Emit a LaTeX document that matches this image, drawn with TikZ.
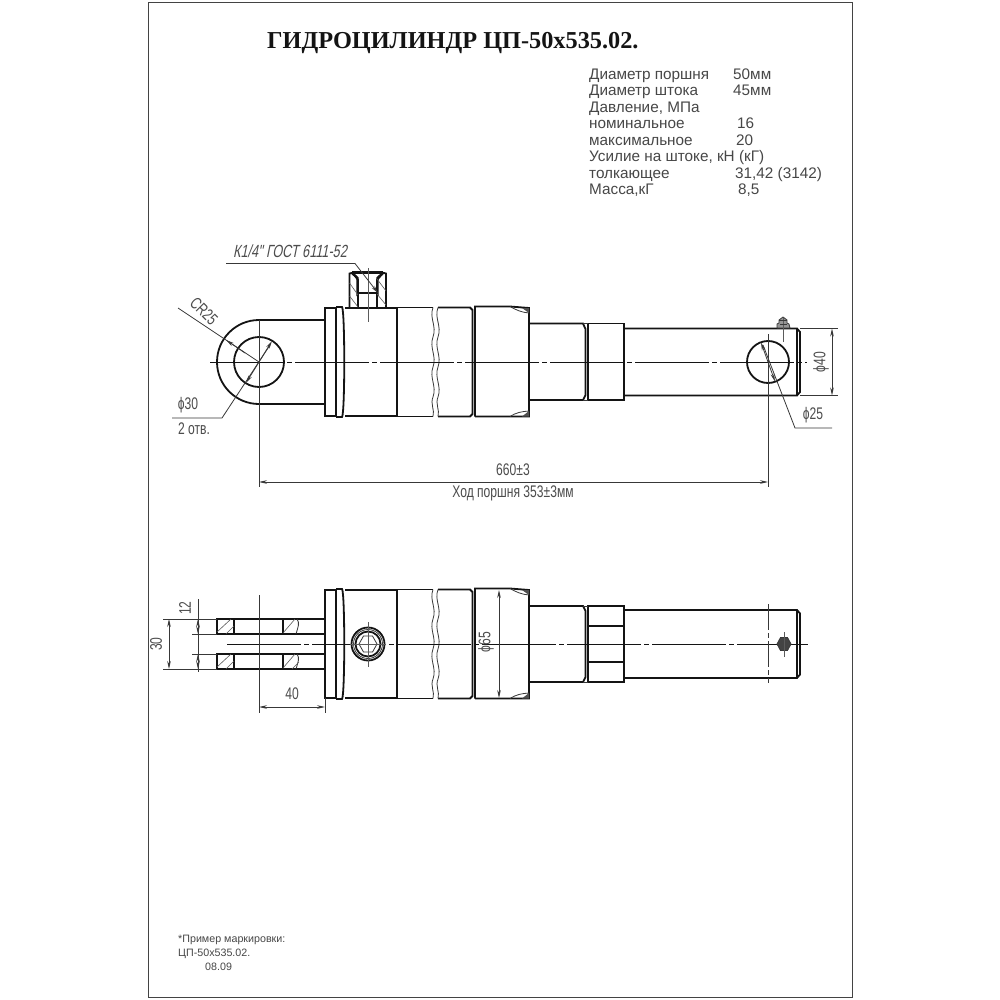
\documentclass[tikz,border=0pt]{standalone}
\usepackage{fontspec}
\usetikzlibrary{arrows.meta}
\setmainfont{Liberation Sans}
\newfontfamily\titlefont{Liberation Serif}
\newfontfamily\cadfont[FakeStretch=0.72]{Liberation Sans}
\newfontfamily\caditfont[FakeStretch=0.72,FakeSlant=0.2]{Liberation Sans}
\definecolor{ink}{gray}{0.08}
\definecolor{cadtext}{gray}{0.3}
\definecolor{spec}{gray}{0.28}
\tikzset{
 frameline/.style={line width=1pt,draw=ink!80},
 main/.style={line width=1.8pt,draw=ink},
 heavy/.style={line width=2.4pt,draw=ink},
 thinl/.style={line width=0.8pt,draw=ink!85},
 hair/.style={line width=0.6pt,draw=ink!70},
 axisl/.style={line width=0.8pt,draw=ink,dash pattern=on 74pt off 3pt on 5pt off 3pt},
 dimarrow/.style={line width=0.8pt,draw=ink!85,{Stealth[length=8pt,width=3.6pt]}-{Stealth[length=8pt,width=3.6pt]}},
 onearrow/.style={line width=0.8pt,draw=ink!85,-{Stealth[length=8pt,width=3.6pt]}},
 cad/.style={inner sep=0pt,text=cadtext,font=\cadfont\fontsize{16.8}{16.8}\selectfont},
 spectxt/.style={inner sep=0pt,anchor=base west,text=spec,font=\fontsize{15.3}{15.3}\selectfont},
 marktxt/.style={inner sep=0pt,anchor=base west,text=spec,font=\fontsize{10.7}{10.7}\selectfont},
}
\begin{document}
\begin{tikzpicture}[x=1pt,y=-1pt]
\useasboundingbox (0,0) rectangle (1000,1000);
\fill[white] (0,0) rectangle (1000,1000);
\draw[frameline] (148,3) rectangle (852,997);

% title
\node[inner sep=0pt,anchor=base west,text=ink,font=\titlefont\bfseries\fontsize{24.3}{24.3}\selectfont] (title) at (267,49) {ГИДРОЦИЛИНДР ЦП-50х535.02.};

% specification
\node[spectxt] (s1) at (589,79.5) {Диаметр поршня};
\node[spectxt] (s1v) at (733,79.5) {50мм};
\node[spectxt] (s2) at (589,96) {Диаметр штока};
\node[spectxt] (s2v) at (733,96) {45мм};
\node[spectxt] (s3) at (589,112.5) {Давление, МПа};
\node[spectxt] (s4) at (589,129) {номинальное};
\node[spectxt] (s4v) at (737,129) {16};
\node[spectxt] (s5) at (589,145.5) {максимальное};
\node[spectxt] (s5v) at (736,145.5) {20};
\node[spectxt] (s6) at (589,162) {Усилие на штоке, кН (кГ)};
\node[spectxt] (s7) at (589,178.5) {толкающее};
\node[spectxt] (s7v) at (735,178.5) {31,42 (3142)};
\node[spectxt] (s8) at (589,195) {Масса,кГ};
\node[spectxt] (s8v) at (738,195) {8,5};

% marking note
\node[marktxt] (m1) at (178,942) {*Пример маркировки:};
\node[marktxt] (m2) at (178,956) {ЦП-50х535.02.};
\node[marktxt] (m3) at (205,970) {08.09};

%%%%%%%%%%%% TOP VIEW
% eye
\draw[main] (325,320) -- (259,320) arc[start angle=270,end angle=90,radius=42] -- (325,404);
\draw[main] (259,362) circle[radius=25];
% flange and body
\draw[main] (325,308) rectangle (336,416);
\draw[main] (336,307) -- (342,307) .. controls (345,310) and (345,414) .. (342,417) -- (336,417);
\draw[main] (345,308) -- (397,308);
\draw[main] (345,416) -- (397,416);
\draw[main] (397,307.5) -- (397,416.5);
\draw[main] (397,307.5) -- (433,307.5);
\draw[main] (397,416.5) -- (433,416.5);
\draw[main] (438,307.5) -- (470,307.5) -- (472.5,310) -- (472.5,414) -- (470,416.5) -- (438,416.5);
\foreach \xx in {433,438}{
 \draw[thinl] (\xx,307.5) .. controls (\xx-4,318) and (\xx+4,326) .. (\xx,337) .. controls (\xx-4,348) and (\xx+4,356) .. (\xx,367) .. controls (\xx-4,378) and (\xx+4,386) .. (\xx,397) .. controls (\xx-3,404) and (\xx+2,410) .. (\xx,416.5);
}
% head
\draw[main] (475,416.5) -- (475,306.5) -- (510,306.5) -- (529,308) -- (529,416.5) -- (475,416.5);
\draw[thinl] (510,306.5) .. controls (516,310) and (522,312.5) .. (529,313);
\draw[thinl] (510,416.5) .. controls (516,412.5) and (522,411.5) .. (529,411);
\fill[ink!75] (522,308) -- (529,308) -- (529,313) -- cycle;
\fill[ink!75] (522,416.5) -- (529,416.5) -- (529,411) -- cycle;
% gland and nut
\draw[main] (529,323.5) -- (583,323.5) -- (585.5,329) -- (585.5,395) -- (583,400) -- (529,400);
\draw[main] (588,323.5) rectangle (624,400);
\draw[thinl] (583,323.5) -- (588,323.5);
\draw[thinl] (583,400) -- (588,400);
% rod
\draw[main] (624,328.5) -- (797,328.5) -- (800,332) -- (800,392) -- (797,395.5) -- (624,395.5);
\draw[main] (797,328.5) -- (797,395.5);
\draw[main] (768,362) circle[radius=21];
% nipple
\draw[thinl,fill=ink!45] (777,328) -- (777,324) -- (779,323) -- (779,320) -- (783,317) -- (787,320) -- (787,323) -- (789,324) -- (790,328) -- cycle;
\draw[hair] (783,318) -- (783,342);
\draw[thinl] (779,320) -- (787,320) (780,324) -- (787,324);
% port
\draw[main] (349.5,308) -- (349.5,273.5) -- (356,272);
\draw[main] (386,308) -- (386,273.5) -- (380,272);
\draw[main] (358,308) -- (358,280) -- (353,273) -- (383,273) -- (377,280) -- (377,308);
\draw[heavy] (357.5,296) -- (357.5,278) -- (352,273);
\draw[heavy] (377.5,296) -- (377.5,278) -- (383,273);
\draw[heavy] (352,272.5) -- (383,272.5);
\draw[main,line width=2pt] (358,292.5) -- (377,292.5);
\foreach \a/\b/\c/\d in {349.5/283/358/295,349.5/296/358/307,377/279/386/291,377/294/386/305}{\draw[hair] (\a,\b) -- (\c,\d);}
\draw[hair] (368,268) -- (368,322);
% axis
\draw[axisl] (210,362) -- (807,362);
% leader K1/4
\coordinate (k0) at (226,263.5);
\coordinate (k1) at (355,263.5);
\coordinate (k2) at (378,293);
\draw[onearrow] (k0) -- (k1) -- (k2);
\node[cad,font=\caditfont\fontsize{17.6}{17.6}\selectfont] (klabel) at (290,251) {К1/4" ГОСТ 6111-52};
% CR25
\coordinate (cr0) at (178,308);
\coordinate (eyec) at (259,362);
\draw[thinl] (cr0) -- (eyec);
\draw[onearrow] (245,353) -- (226,340);
\node[cad,rotate=-45] (cr) at (204,311) {CR25};
% phi 30
\coordinate (p0) at (172,418);
\coordinate (p1) at (222,418);
\coordinate (p2) at (270,345);
\draw[thinl] (p0) -- (p1) -- (p2);
\draw[onearrow] (259,362) -- (272,341);
\draw[onearrow] (259,362) -- (246,383);
\node[cad] (p30) at (188,405) {ϕ30};
\node[cad] (p2o) at (194,429) {2 отв.};
% extension and 660
\draw[thinl] (259,320) -- (259,487);
\draw[thinl] (768,334) -- (768,487);
\draw[dimarrow] (259,482) -- (768,482);
\node[cad] (d660) at (513,470) {660±3};
\node[cad] (dhod) at (513,493) {Ход поршня 353±3мм};
% phi 25
\coordinate (q0) at (763,345);
\coordinate (q1) at (795,428);
\coordinate (q2) at (832,428);
\draw[thinl] (q0) -- (q1) -- (q2);
\draw[onearrow] (768,362) -- (761,342.5);
\draw[onearrow] (768,362) -- (775,381.5);
\node[cad] (p25) at (813,415) {ϕ25};
% phi 40
\draw[thinl] (800,328.5) -- (838,328.5);
\draw[thinl] (800,395.5) -- (838,395.5);
\draw[dimarrow] (832,328.5) -- (832,395.5);
\node[cad,rotate=90] (p40) at (821,362) {ϕ40};

%%%%%%%%%%%% BOTTOM VIEW
% fork
\draw[main] (217,619) rectangle (325,634);
\draw[main] (217,654) rectangle (325,669);
\draw[main] (234,619) -- (234,634);
\draw[main] (234,654) -- (234,669);
\draw[main] (283,619) -- (283,634);
\draw[main] (283,654) -- (283,669);
\foreach \yy in {619,654}{
 \draw[hair] (217,\yy+13) -- (231,\yy);
 \draw[hair] (226,\yy+15) -- (234,\yy+7);
 \draw[hair] (283,\yy+14) -- (295,\yy);
 \draw[thinl] (297,\yy) .. controls (300,\yy+4) and (298,\yy+8) .. (296,\yy+15);
}
\draw[hair] (292,654+15) -- (299,654+8);
% flange and body
\draw[main] (325,590) rectangle (336,698);
\draw[main] (336,589) -- (342,589) .. controls (345,592) and (345,696) .. (342,699) -- (336,699);
\draw[main] (345,590) -- (397,590);
\draw[main] (345,698) -- (397,698);
\draw[main] (397,589.5) -- (397,698.5);
\draw[main] (397,589.5) -- (433,589.5);
\draw[main] (397,698.5) -- (433,698.5);
\draw[main] (438,589.5) -- (470,589.5) -- (472.5,592) -- (472.5,696) -- (470,698.5) -- (438,698.5);
\foreach \xx in {433,438}{
 \draw[thinl] (\xx,589.5) .. controls (\xx-4,600) and (\xx+4,608) .. (\xx,619) .. controls (\xx-4,630) and (\xx+4,638) .. (\xx,649) .. controls (\xx-4,660) and (\xx+4,668) .. (\xx,679) .. controls (\xx-3,686) and (\xx+2,692) .. (\xx,698.5);
}
% head
\draw[main] (475,698.5) -- (475,588.5) -- (510,588.5) -- (529,590) -- (529,698.5) -- (475,698.5);
\draw[thinl] (510,588.5) .. controls (516,592) and (522,594.5) .. (529,595);
\draw[thinl] (510,698.5) .. controls (516,694.5) and (522,693.5) .. (529,693);
\fill[ink!75] (522,590) -- (529,590) -- (529,595) -- cycle;
\fill[ink!75] (522,698.5) -- (529,698.5) -- (529,693) -- cycle;
% gland and nut
\draw[main] (529,606) -- (583,606) -- (585.5,611) -- (585.5,677) -- (583,682) -- (529,682);
\draw[main] (588,606) rectangle (624,682);
\draw[thinl] (583,606) -- (588,606);
\draw[thinl] (583,682) -- (588,682);
\draw[main] (588,626) -- (624,626);
\draw[main] (588,662) -- (624,662);
% rod
\draw[main] (624,610) -- (797,610) -- (800,613.5) -- (800,674.5) -- (797,678) -- (624,678);
\draw[main] (797,610) -- (797,678);
% axis
\draw[axisl] (227,644) -- (808,644);
% port circle
\draw[main,fill=white] (368,644) circle[radius=16.5];
\draw[thinl] (368,644) circle[radius=14.5];
\draw[main] (368,644) circle[radius=12.5];
\draw[thinl] (377,644) -- (372.5,652) -- (363.5,652) -- (359,644) -- (363.5,636) -- (372.5,636) -- cycle;
\draw[hair] (368,622) -- (368,667);
\draw[hair] (350,644) -- (386,644);
% nipple head
\draw[thinl,fill=ink!80] (791,644) -- (787.5,650.5) -- (780.5,650.5) -- (777,644) -- (780.5,637.5) -- (787.5,637.5) -- cycle;
\draw[hair] (784,632) -- (784,657);
\draw[thinl,dash pattern=on 26pt off 3pt on 5pt off 3pt] (768,604) -- (768,683);
% extension
\draw[thinl] (259,595) -- (259,713);
\draw[thinl] (325,698) -- (325,713);
\draw[dimarrow] (259,707) -- (325,707);
\node[cad] (d40) at (292,694) {40};
% dim 30
\draw[thinl] (163,619) -- (217,619);
\draw[thinl] (163,669) -- (217,669);
\draw[dimarrow] (169,619) -- (169,669);
\node[cad,rotate=90] (d30) at (156,644) {30};
% dim 12
\draw[thinl] (192,634) -- (217,634);
\draw[thinl] (192,654) -- (217,654);
\draw[thinl] (198,599) -- (198,672);
\draw[onearrow] (198,626) -- (198,619);
\draw[onearrow] (198,627) -- (198,634);
\draw[onearrow] (198,661) -- (198,654);
\draw[onearrow] (198,662) -- (198,669);
\node[cad,rotate=90] (d12) at (185,608) {12};
% phi 65
\draw[dimarrow] (499,590) -- (499,698);
\node[cad,rotate=90] (p65) at (486,642) {ϕ65};
\end{tikzpicture}
\end{document}
